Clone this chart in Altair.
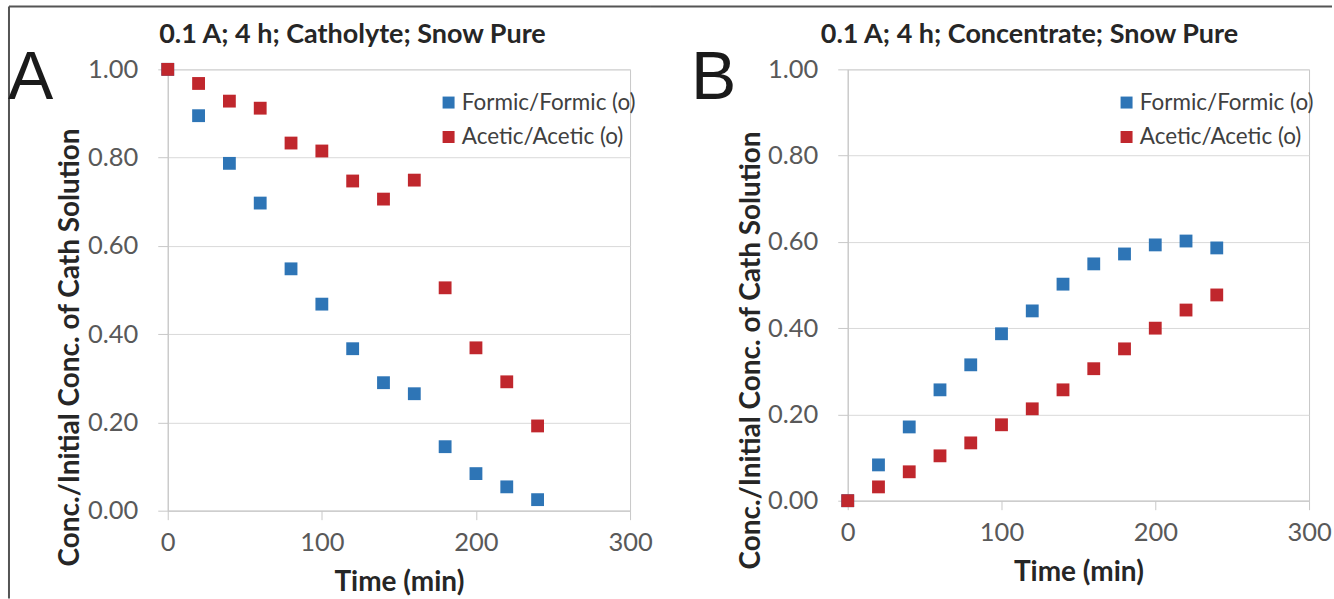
import altair as alt
import pandas as pd

# Sampling times (min)
time_min = [0, 20, 40, 60, 80, 100, 120, 140, 160, 180, 200, 220, 240]

# Catholyte: normalised concentration C/C0
cath_formic = [1.00, 0.895, 0.787, 0.697, 0.548, 0.468, 0.367, 0.290, 0.265, 0.145, 0.084, 0.054, 0.025]
cath_acetic = [1.00, 0.968, 0.928, 0.912, 0.833, 0.815, 0.747, 0.706, 0.749, 0.505, 0.369, 0.292, 0.192]

# Concentrate: concentration relative to initial catholyte concentration
conc_formic = [0.00, 0.083, 0.171, 0.257, 0.315, 0.387, 0.440, 0.502, 0.549, 0.572, 0.593, 0.602, 0.586]
conc_acetic = [0.00, 0.032, 0.067, 0.104, 0.134, 0.176, 0.213, 0.257, 0.306, 0.352, 0.400, 0.442, 0.477]

series_names = ["Formic/Formic (o)", "Acetic/Acetic (o)"]
series_colors = ["#2e75b6", "#c0272d"]

x_ticks = [0, 100, 200, 300]
y_ticks = [0.0, 0.2, 0.4, 0.6, 0.8, 1.0]

FONT = "Lato"
GRID = "#d9d9d9"
LINE = "#c8c8c8"


def long_table(formic, acetic):
    rows = []
    for name, vals in zip(series_names, [formic, acetic]):
        for t, v in zip(time_min, vals):
            rows.append({"Time": t, "Ratio": v, "Series": name})
    return pd.DataFrame(rows)


def panel(df, title, letter, w, h, legend_x, legend_y, title_x, letter_x,
          ytitle_x, ytitle_y, border_x1, border_x2, left_border):
    one = pd.DataFrame({"k": [0]})

    pts = alt.Chart(df).mark_square(size=165, opacity=1).encode(
        x=alt.X("Time:Q",
                scale=alt.Scale(domain=[0, 300], nice=False),
                axis=alt.Axis(values=x_ticks, grid=False, tickSize=9,
                              labelFontSize=25.5, labelColor="#595959",
                              labelBaseline="alphabetic", labelPadding=31,
                              labelFlush=False,
                              title="Time (min)", titleFontSize=28,
                              titleFontWeight="bold", titleColor="#262626",
                              titleX=w / 2, titleY=80,
                              titleBaseline="alphabetic")),
        y=alt.Y("Ratio:Q",
                scale=alt.Scale(domain=[0, 1], nice=False),
                axis=alt.Axis(values=y_ticks, format=".2f", grid=True,
                              tickSize=10, labelFontSize=25.5,
                              labelColor="#595959", labelPadding=20,
                              labelFlush=False,
                              title="Conc./Initial Conc. of Cath Solution",
                              titleFontSize=28, titleFontWeight="bold",
                              titleColor="#262626", titleAngle=270,
                              titleX=ytitle_x, titleY=ytitle_y,
                              titleBaseline="alphabetic")),
        color=alt.Color("Series:N",
                        scale=alt.Scale(domain=series_names, range=series_colors),
                        legend=alt.Legend(orient="none", legendX=legend_x,
                                          legendY=legend_y, title=None,
                                          symbolType="square", symbolSize=144,
                                          symbolStrokeWidth=0,
                                          labelFontSize=22.5, labelColor="#404040",
                                          labelFont=FONT, labelLimit=400,
                                          rowPadding=11.5, labelOffset=2,
                                          padding=0)),
    )

    head = alt.Chart(one).mark_text(
        text=title, font=FONT, fontSize=27, fontWeight="bold",
        color="#262626", align="center", baseline="alphabetic",
    ).encode(x=alt.value(title_x), y=alt.value(-26))

    tag = alt.Chart(one).mark_text(
        text=letter, font="Liberation Sans", fontSize=68, color="#1a1a1a",
        align="left", baseline="alphabetic",
    ).encode(x=alt.value(letter_x), y=alt.value(30))

    frame_top = alt.Chart(one).mark_rule(color="#555555", strokeWidth=2).encode(
        x=alt.value(border_x1), x2=alt.value(border_x2), y=alt.value(-63))

    layers = [frame_top, head, tag, pts]
    if left_border:
        frame_left = alt.Chart(one).mark_rule(color="#555555", strokeWidth=2).encode(
            x=alt.value(-159), y=alt.value(-63), y2=alt.value(530))
        layers.insert(0, frame_left)

    return alt.layer(*layers).properties(width=w, height=h)


left = panel(long_table(cath_formic, cath_acetic),
             "0.1 A; 4 h; Catholyte; Snow Pure", "A",
             463, 442, 270, 22, 185, -160, -89, 278, -159, 483, True)

right = panel(long_table(conc_formic, conc_acetic),
              "0.1 A; 4 h; Concentrate; Snow Pure", "B",
              462, 432, 268, 22, 182, -157, -88, 281, -198, 485, False)

chart = (
    alt.hconcat(left, right, spacing=218, bounds="flush")
    .resolve_scale(color="independent", x="independent", y="independent")
    .properties(padding={"left": 7, "top": 4, "right": 0, "bottom": 0},
                background="white")
    .configure_view(stroke=LINE, strokeWidth=1)
    .configure_axis(domainColor=LINE, tickColor=LINE, gridColor=GRID,
                    labelFont=FONT, titleFont=FONT)
    .configure_legend(labelFont=FONT)
)

chart.save("out.html", embed_options={"renderer": "svg", "actions": False})
